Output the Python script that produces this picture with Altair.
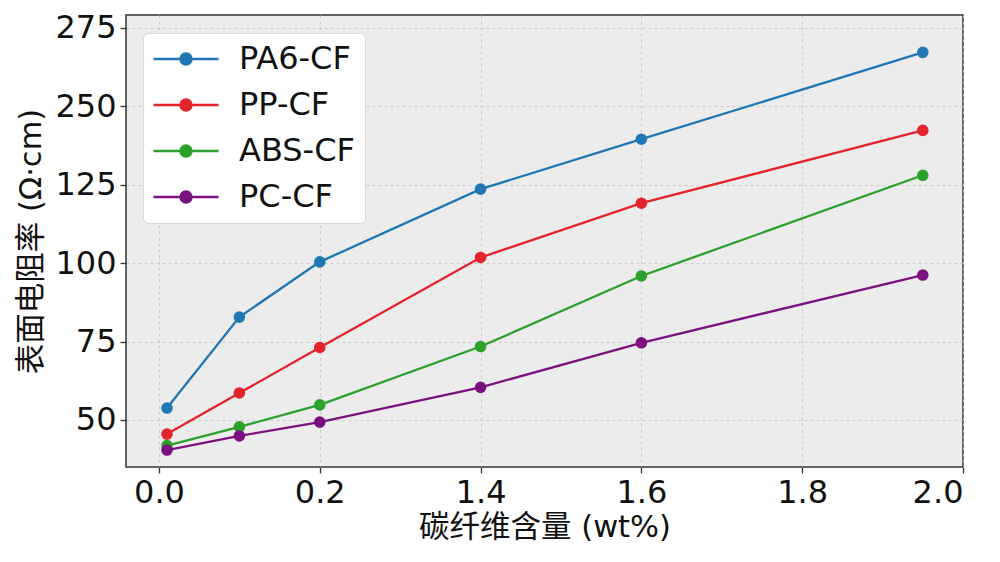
import altair as alt
import pandas as pd

# x positions on the (evenly spaced) axis, and its printed tick labels
x_pos = [0.01, 0.1, 0.2, 0.4, 0.6, 0.95]
x_ticks = [0, 0.2, 0.4, 0.6, 0.8, 1.0]
x_labels = ["0.0", "0.2", "1.4", "1.6", "1.8", "2.0"]

# y positions on the (evenly spaced) axis, and its printed tick labels
y_ticks = [50, 75, 100, 125, 150, 175]
y_labels = ["50", "75", "100", "125", "250", "275"]

series = ["PA6-CF", "PP-CF", "ABS-CF", "PC-CF"]
pa6_cf = [53.8, 82.8, 100.4, 123.6, 139.5, 167.2]
pp_cf = [45.5, 58.6, 73.1, 101.8, 119.1, 142.3]
abs_cf = [41.8, 47.8, 54.8, 73.4, 95.9, 128.0]
pc_cf = [40.4, 44.9, 49.3, 60.4, 74.6, 96.2]
colors = ["#1f77b4", "#e3242b", "#2ca02c", "#7b1180"]

rows = []
for name, vals in zip(series, [pa6_cf, pp_cf, abs_cf, pc_cf]):
    for xv, yv in zip(x_pos, vals):
        rows.append({"x": xv, "y": yv, "s": name})
df = pd.DataFrame(rows)

x_expr = "[" + ",".join("'%s'" % l for l in x_labels) + "][round(datum.value*5)]"
y_expr = "[" + ",".join("'%s'" % l for l in y_labels) + "][round((datum.value-50)/25)]"

legend_symbol = "M-2.5,0H2.5M-0.42,0a0.42,0.42 0 1,0 0.84,0a0.42,0.42 0 1,0 -0.84,0"

legend = alt.Legend(
    title=None,
    orient="none",
    legendX=17,
    legendY=18,
    symbolType=legend_symbol,
    symbolSize=676,
    symbolStrokeWidth=2.5,
    symbolOffset=17,
    labelFontSize=32,
    labelFont="DejaVu Sans",
    labelColor="#111111",
    labelOffset=37,
    rowPadding=14,
    padding=10,
    fillColor="white",
    strokeColor="#d8d8d8",
    cornerRadius=5,
)

color = alt.Color("s:N", scale=alt.Scale(domain=series, range=colors), legend=legend, sort=series)

x = alt.X(
    "x:Q",
    scale=alt.Scale(domain=[-0.041, 1.0], nice=False, zero=False),
    axis=alt.Axis(values=x_ticks, labelExpr=x_expr, title="碳纤维含量 (wt%)"),
)
y = alt.Y(
    "y:Q",
    scale=alt.Scale(domain=[35, 179.1], nice=False, zero=False),
    axis=alt.Axis(values=y_ticks, labelExpr=y_expr, title="表面电阻率 (Ω·cm)"),
)

base = alt.Chart(df)
lines = base.mark_line(strokeWidth=2.3).encode(x=x, y=y, color=color, detail="s:N")
points = base.mark_circle(size=135, opacity=1).encode(x=x, y=y, color=color)

chart = (
    alt.layer(lines, points)
    .properties(
        width=837,
        height=452,
        autosize=alt.AutoSizeParams(type="none"),
        padding={"left": 126, "top": 15, "right": 37, "bottom": 95},
        background="white",
    )
    .configure_view(fill="#ececec", stroke="#333333", strokeWidth=1.5)
    .configure_axis(
        domain=False,
        grid=True,
        gridColor="#c4c4c4",
        gridDash=[3, 3],
        gridWidth=0.8,
        ticks=True,
        tickColor="#333333",
        tickSize=6,
        tickWidth=1.3,
        labelFont="DejaVu Sans",
        labelFontSize=32,
        labelColor="#111111",
        labelPadding=4,
        titleFont="DejaVu Sans, Noto Sans CJK SC",
        titleFontSize=30.5,
        titleFontWeight="normal",
        titleColor="#111111",
    )
    .configure_axisX(titlePadding=4)
    .configure_axisY(titlePadding=8)
)

chart.save("out.html", embed_options={"renderer": "svg", "actions": False})
